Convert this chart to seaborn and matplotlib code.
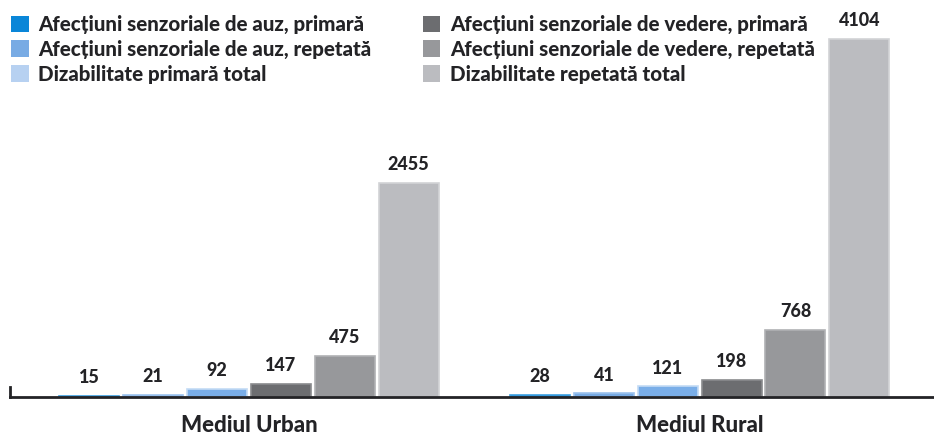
import pandas as pd
import seaborn as sns
import matplotlib.pyplot as plt
from matplotlib.patches import Patch

groups = ["Mediul Urban", "Mediul Rural"]
series = [
    "Afecțiuni senzoriale de auz, primară",
    "Afecțiuni senzoriale de auz, repetată",
    "Dizabilitate primară total",
    "Afecțiuni senzoriale de vedere, primară",
    "Afecțiuni senzoriale de vedere, repetată",
    "Dizabilitate repetată total",
]
urban = [15, 21, 92, 147, 475, 2455]
rural = [28, 41, 121, 198, 768, 4104]

colors = ["#0a86d8", "#78abe4", "#b7d1f1", "#6c6d70", "#97989b", "#bbbcc0"]
bar_colors = ["#0a86d8", "#78abe4", "#7aaee8", "#6c6d70", "#97989b", "#bbbcc0"]
edge_colors = ["#3d9fe0", "#9cc2ee", "#c4dbf5", "#8a8b8e", "#b0b1b4", "#d2d3d6"]

df = pd.DataFrame({
    "grupa": [g for g in groups for _ in series],
    "serie": series * 2,
    "valoare": urban + rural,
})

sns.set_style("white")
plt.rcParams["font.family"] = ["Lato", "DejaVu Sans"]
plt.rcParams["font.weight"] = "black"
text_color = "#232326"

fig = plt.figure(figsize=(9.34, 4.41), dpi=100)
ax = fig.add_axes([10 / 934, 44 / 441, 1 - 10 / 934, 397 / 441])

sns.barplot(data=df, x="grupa", y="valoare", hue="serie", hue_order=series,
            palette=bar_colors, saturation=1, width=0.85, gap=0.06, ax=ax,
            legend=False)

for i, cont in enumerate(ax.containers):
    for bar in cont:
        bar.set_edgecolor(edge_colors[i])
        bar.set_linewidth(1.2)
    ax.bar_label(cont, fmt="%d", padding=7, fontsize=13, fontweight="black",
                 color=text_color)

ax.set_xlim(-0.53, 1.52)
ax.set_ylim(0, 4551)
ax.set_xlabel("")
ax.set_ylabel("")
ax.set_yticks([])
ax.tick_params(axis="x", length=0, pad=13)
for lab in ax.get_xticklabels():
    lab.set_fontsize(16)
    lab.set_fontweight("black")
    lab.set_color(text_color)

for s in ["top", "right"]:
    ax.spines[s].set_visible(False)
ax.spines["bottom"].set_color(text_color)
ax.spines["bottom"].set_linewidth(2)
ax.spines["left"].set_color(text_color)
ax.spines["left"].set_linewidth(2)
ax.spines["left"].set_bounds(0, 110)

handles = [Patch(facecolor=c, edgecolor="none") for c in colors]
for k, xpos in enumerate([-0.008, 0.433]):
    leg = fig.legend(handles[3 * k:3 * k + 3], series[3 * k:3 * k + 3],
                     loc="upper left", bbox_to_anchor=(xpos, 1.008),
                     frameon=False, handlelength=0.85, handleheight=0.85,
                     handletextpad=0.47, labelspacing=0.28,
                     prop={"size": 14.8, "weight": "black"})
    for t in leg.get_texts():
        t.set_color(text_color)

fig.savefig("out.png", dpi=100)
